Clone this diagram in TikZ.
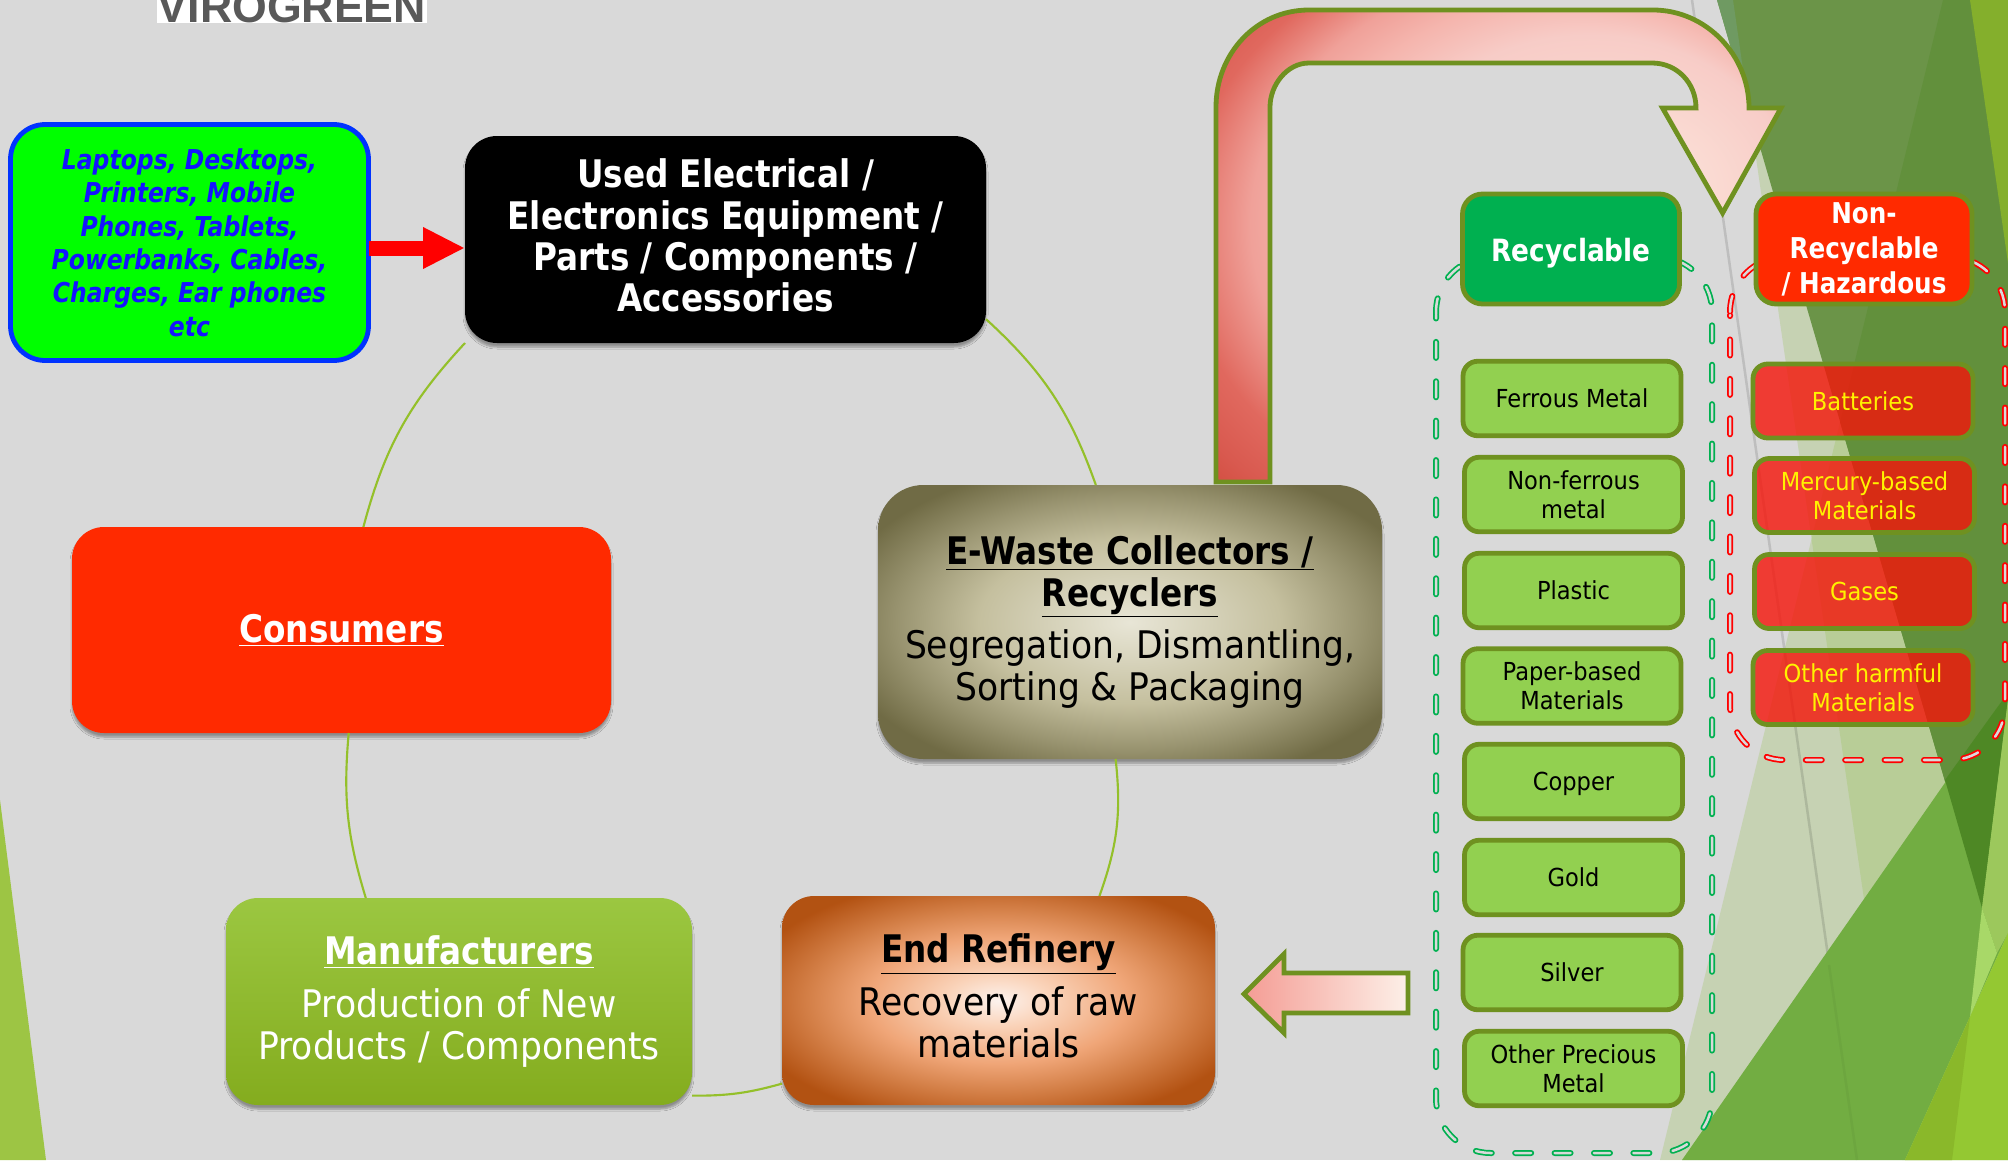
\documentclass[tikz,border=0pt]{standalone}
\usepackage{fontspec}
\setmainfont{DejaVu Sans}[FakeStretch=0.91,BoldFeatures={FakeStretch=0.86},BoldItalicFeatures={FakeStretch=0.86}]
\newfontfamily\logofont{Liberation Sans}
\usepackage{tikz}
\usetikzlibrary{arrows.meta}
\usetikzlibrary{shadows.blur}
\definecolor{bgGrey}{RGB}{217,217,217}
\definecolor{edgeOlive}{RGB}{111,145,32}
\definecolor{ringGreen}{RGB}{148,192,42}
\definecolor{fenceGreen}{RGB}{0,176,80}
\definecolor{fenceRed}{RGB}{255,0,0}
\definecolor{paleFacet}{RGB}{143,191,69}
\definecolor{redItem}{RGB}{245,20,10}
\definecolor{greenItem}{RGB}{146,208,80}
\definecolor{hotRed}{RGB}{255,42,0}
\pgfdeclareradialshading{collectorGlow}{\pgfpoint{0bp}{0bp}}{rgb(0bp)=(.91,.90,.84);rgb(15bp)=(.77,.75,.62);rgb(23bp)=(.60,.58,.44);rgb(30bp)=(.44,.42,.27);rgb(70bp)=(.44,.42,.27)}
\pgfdeclareradialshading{refineryGlow}{\pgfpoint{0bp}{0bp}}{rgb(0bp)=(.99,.95,.93);rgb(6bp)=(.98,.83,.73);rgb(15bp)=(.94,.65,.47);rgb(22bp)=(.83,.50,.28);rgb(30bp)=(.70,.32,.07);rgb(70bp)=(.70,.32,.07)}
\pgfdeclareradialshading{bentGlow}{\pgfpoint{14.7bp}{7bp}}{rgb(0bp)=(.98,.88,.85);rgb(8bp)=(.98,.85,.82);rgb(18.5bp)=(.97,.80,.78);rgb(23.5bp)=(.96,.71,.68);rgb(27bp)=(.94,.63,.60);rgb(31.5bp)=(.88,.41,.37);rgb(35bp)=(.85,.35,.31);rgb(41bp)=(.78,.23,.16)}
\tikzset{
  mainbox/.style={rounded corners=24pt,outer sep=0pt,inner sep=0pt,align=center,font=\fontsize{28.5}{31.5}\selectfont,blur shadow={shadow blur steps=6,shadow xshift=0pt,shadow yshift=-3pt,shadow blur radius=1.5pt,shadow opacity=35}},
  sized/.style 2 args={minimum width=#1*0.75pt,minimum height=#2*0.75pt},
  itembox/.style={draw=edgeOlive,line width=3.6pt,fill=#1,rounded corners=11pt,outer sep=0pt,inner sep=0pt,align=center,font=\fontsize{18.6}{21.75}\selectfont},
  hazardbox/.style={itembox=redItem,fill opacity=0.8,text opacity=1,text=yellow},
  headbox/.style={itembox=#1,rounded corners=15pt,text=white,font=\bfseries\fontsize{21.5}{26.25}\selectfont},
  ringline/.style={draw=ringGreen,line width=1.6pt},
  fence/.style={draw=#1,line width=1.3pt,double=bgGrey,double distance=1.9pt,line cap=round,dash pattern=on 12pt off 17.55pt,rounded corners=41pt},
  blockarrow/.style={draw=edgeOlive,line width=3.6pt,line join=miter}
}
\begin{document}
\begin{tikzpicture}[x=0.75pt,y=0.75pt,yscale=-1,xscale=1]
\useasboundingbox (0,0) rectangle (2008,1160);
\fill [bgGrey] (0,0) rectangle (2008,1160);
\fill [fill={rgb,255:red,157;green,197;blue,68}] (0,800) -- (46,1160) -- (0,1160) -- cycle;
\fill [paleFacet,fill opacity=0.25] (1943,0) -- (1660,1160) -- (2008,1160) -- (2008,0) -- cycle;
\fill [paleFacet,fill opacity=0.25] (1733,0) -- (1902,1160) -- (2008,1160) -- (2008,0) -- cycle;
\draw [black,draw opacity=0.12,line width=1.9pt] (1692,0) -- (1857,1160);
\fill [fill={rgb,255:red,107;green,148;blue,72}] (1717,0) -- (1982,908) -- (2096,0) -- cycle;
\fill [fill={rgb,255:red,111;green,154;blue,98}] (1717,0) -- (1733,0) -- (1749,111) -- cycle;
\fill [fill={rgb,255:red,98;green,144;blue,60}] (1943,0) -- (1840,422) -- (1982,908) -- (2096,0) -- cycle;
\fill [fill={rgb,255:red,132;green,175;blue,44}] (1970,0) -- (2008,263) -- (2008,0) -- cycle;
\fill [fill={rgb,255:red,114;green,173;blue,66}] (1682,1160) -- (2009,691) -- (2008,933) -- (1905,1160) -- cycle;
\fill [fill={rgb,255:red,78;green,136;blue,37}] (1945,780) -- (2009,691) -- (1982,908) -- cycle;
\fill [fill={rgb,255:red,156;green,200;blue,92}] (2009,691) -- (1982,908) -- (1997,953) -- (2008,933) -- cycle;
\fill [fill={rgb,255:red,168;green,216;blue,104}] (1982,908) -- (1997,953) -- (1970,1017) -- cycle;
\fill [fill={rgb,255:red,148;green,200;blue,50}] (1905,1160) -- (2008,933) -- (2008,1160) -- cycle;
\fill [fill={rgb,255:red,138;green,184;blue,42}] (1905,1160) -- (1970,1017) -- (1952,1160) -- cycle;
\draw [black,draw opacity=0.04,line width=1.9pt] (1829,965) -- (1857,1160);
\fill [white] (157,0) rectangle (427,23);
\begin{scope}
\clip (157,0) rectangle (427,23);
\node (logoText) [anchor=base,inner sep=0pt,text={rgb,255:red,89;green,89;blue,89}] at (292,22) {\logofont\bfseries\fontsize{33.5}{33.5}\selectfont VIROGREEN};
\end{scope}
\draw [fence=fenceGreen,dash phase=9.4pt] (1436,315) -- (1436,1153) -- (1712,1153) -- (1712,257) -- (1436,257) -- (1436,315);
\draw [fence=fenceRed,dash phase=11.2pt] (1730,315) -- (1730,760) -- (2005,760) -- (2005,257) -- (1730,257) -- (1730,315);
\draw [blockarrow,shade,shading=bentGlow] (1216,482) -- (1216,107) .. controls (1216,54) and (1256,10) .. (1309,10) -- (1653,10) .. controls (1706,10) and (1749,55) .. (1749,108) -- (1781,108) -- (1722.6,213) -- (1662.5,108) -- (1696,108) .. controls (1696,83) and (1677,63) .. (1652,63) -- (1309,63) .. controls (1287,63) and (1270,85) .. (1270,107) -- (1270,482) -- cycle;
\draw [blockarrow,left color={rgb,255:red,244;green,156;blue,148},middle color={rgb,255:red,251;green,222;blue,216},right color={rgb,255:red,253;green,240;blue,232}] (1408,973) -- (1284,973) -- (1284,954) -- (1244,994) -- (1284,1033) -- (1284,1013) -- (1408,1013) -- cycle;
\node (nodeDevices) [draw={rgb,255:red,0;green,51;blue,255},line width=3.6pt,fill={rgb,255:red,0;green,255;blue,0},rounded corners=26pt,outer sep=0pt,inner sep=0pt,align=center,sized={358}{236},text={rgb,255:red,20;green,20;blue,255},font=\bfseries\itshape\fontsize{20.5}{25}\selectfont] at (189.5,242.5) {Laptops, Desktops,\\Printers, Mobile\\Phones, Tablets,\\Powerbanks, Cables,\\Charges, Ear phones\\etc};
\node (nodeUsed) [mainbox,fill=black,text=white,sized={521}{207},text depth=6pt,font=\bfseries\fontsize{28.5}{31}\selectfont] at (725.5,239.5) {Used Electrical /\\Electronics Equipment /\\Parts / Components /\\Accessories};
\node (nodeConsumers) [mainbox,fill=hotRed,text=white,sized={539}{206},font=\bfseries\fontsize{28.5}{31.5}\selectfont] at (341.5,630) {\underline{Consumers}};
\node (nodeCollectors) [mainbox,shade,shading=collectorGlow,sized={504}{274},rounded corners=34pt] at (1130,622) {\textbf{\underline{E-Waste Collectors /}}\\\textbf{\underline{Recyclers}}\\[8pt]Segregation, Dismantling,\\Sorting \& Packaging};
\node (nodeRefinery) [mainbox,shade,shading=refineryGlow,sized={433}{209},text depth=7pt] at (998.5,1000.5) {\textbf{\underline{End Refinery}}\\[8pt]Recovery of raw\\materials};
\node (nodeMakers) [mainbox,top color={rgb,255:red,155;green,199;blue,65},bottom color={rgb,255:red,132;green,172;blue,30},text=white,sized={466}{207}] at (459,1001.5) {\textbf{\underline{Manufacturers}}\\[8pt]Production of New\\Products / Components};
\coordinate (arrowLevel) at (0,248);
\draw [-{Triangle[length=31.5pt,width=29pt]},draw=red,fill=red,line width=11.25pt] (nodeDevices.east |- arrowLevel) -- (nodeUsed.west |- arrowLevel);
\draw [ringline] (nodeUsed.south west) to [bend left=14] (nodeConsumers.78.7);
\draw [ringline] (nodeUsed.-17.6) to [bend right=14] (nodeCollectors.104.7);
\draw [ringline] (nodeCollectors.264.2) to [bend right=13] (nodeRefinery.46.4);
\draw [ringline] (nodeConsumers.274.2) to [bend left=11] (nodeMakers.132.5);
\draw [ringline] (nodeMakers.-22.1) to [bend left=8] (nodeRefinery.201.6);
\node (nodeRecyclable) [headbox=fenceGreen,sized={217}{110},text height=23.5pt,font=\bfseries\fontsize{23}{26.25}\selectfont] at (1571,249) {Recyclable};
\node (nodeHazardous) [headbox=hotRed,sized={216}{110}] at (1864,249) {Non-\\Recyclable\\/ Hazardous};
\node (nodeFerrous) [itembox=greenItem,sized={218}{74.5}] at (1572,398.5) {Ferrous Metal};
\node (nodeNonFerrous) [itembox=greenItem,sized={218}{74.5}] at (1573.5,494.5) {Non-ferrous\\metal};
\node (nodePlastic) [itembox=greenItem,sized={218}{74.5}] at (1573.5,590.5) {Plastic};
\node (nodePaper) [itembox=greenItem,sized={218}{74.5}] at (1572,686) {Paper-based\\Materials};
\node (nodeCopper) [itembox=greenItem,sized={218}{74.5},text depth=0pt] at (1573.5,781.5) {Copper};
\node (nodeGold) [itembox=greenItem,sized={218}{74.5}] at (1573.5,877.5) {Gold};
\node (nodeSilver) [itembox=greenItem,sized={218}{74.5}] at (1572,972.5) {Silver};
\node (nodePrecious) [itembox=greenItem,sized={218}{74.5}] at (1573.5,1068.5) {Other Precious\\Metal};
\node (nodeBatteries) [hazardbox,sized={220}{74}] at (1863,401) {Batteries};
\node (nodeMercury) [hazardbox,sized={220}{74}] at (1864.5,495.5) {Mercury-based\\Materials};
\node (nodeGases) [hazardbox,sized={220}{74}] at (1864.5,591.5) {Gases};
\node (nodeHarmful) [hazardbox,sized={220}{74}] at (1863,687.5) {Other harmful\\Materials};
\end{tikzpicture}
\end{document}
